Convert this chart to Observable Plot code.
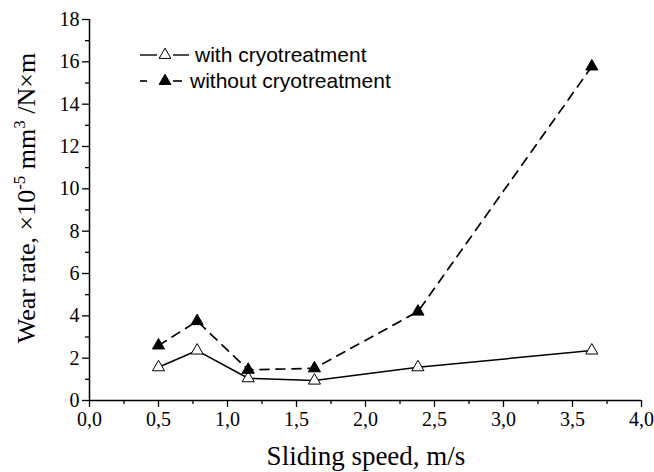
<!DOCTYPE html>
<html>
<head>
<meta charset="utf-8">
<script src="https://cdn.jsdelivr.net/npm/d3@7"></script>
<script src="https://cdn.jsdelivr.net/npm/@observablehq/plot@0.6"></script>
<style>
  html, body { margin: 0; padding: 0; background: #fff; }
  #chart svg { display: block; }
</style>
</head>
<body>
<div id="chart"></div>
<script>
// Data
const speed = [0.50, 0.78, 1.15, 1.63, 2.38, 3.64];
const withCryo = [1.57, 2.36, 1.05, 0.94, 1.57, 2.36];
const withoutCryo = [2.60, 3.75, 1.45, 1.52, 4.20, 15.78];
const seriesNames = ["with cryotreatment", "without cryotreatment"];
const xMajorTicks = [0, 0.5, 1, 1.5, 2, 2.5, 3, 3.5, 4];
const xMinorTicks = [0.25, 0.75, 1.25, 1.75, 2.25, 2.75, 3.25, 3.75];
const yMajorTicks = [0, 2, 4, 6, 8, 10, 12, 14, 16, 18];
const yMinorTicks = [1, 3, 5, 7, 9, 11, 13, 15, 17];

const dataWith = speed.map((s, i) => ({x: s, y: withCryo[i]}));
const dataWithout = speed.map((s, i) => ({x: s, y: withoutCryo[i]}));

const serif = "'Liberation Serif', 'Times New Roman', serif";
const sans = "'Liberation Sans', Arial, sans-serif";
const fmt = d => d.toFixed(1).replace(".", ",");

const plot = Plot.plot({
  width: 654,
  height: 472,
  marginLeft: 89,
  marginRight: 13,
  marginTop: 19,
  marginBottom: 72,
  style: {fontFamily: serif, fontSize: "20px", color: "black", background: "white"},
  x: {domain: [0, 4]},
  y: {domain: [0, 18]},
  marks: [
    Plot.axisX(xMajorTicks, {tickSize: 7, tickPadding: 4, tickFormat: fmt, label: null, stroke: "black", strokeWidth: 1.3}),
    Plot.axisX(xMinorTicks, {tickSize: 4, tickFormat: () => "", label: null, stroke: "black", strokeWidth: 1.3}),
    Plot.axisY(yMajorTicks, {tickSize: 7, tickPadding: 3, label: null, stroke: "black", strokeWidth: 1.3}),
    Plot.axisY(yMinorTicks, {tickSize: 4, tickFormat: () => "", label: null, stroke: "black", strokeWidth: 1.3}),
    Plot.ruleX([0], {stroke: "black", strokeWidth: 1.5}),
    Plot.ruleY([0], {stroke: "black", strokeWidth: 1.5}),
    Plot.line(dataWith, {x: "x", y: "y", stroke: "black", strokeWidth: 1.5}),
    Plot.line(dataWithout, {x: "x", y: "y", stroke: "black", strokeWidth: 1.7, strokeDasharray: "9,7"}),
    Plot.dot(dataWith, {x: "x", y: "y", symbol: "triangle", r: 4.5, fill: "white", stroke: "black", strokeWidth: 1}),
    Plot.dot(dataWithout, {x: "x", y: "y", symbol: "triangle", r: 4.5, fill: "black", stroke: "black", strokeWidth: 1})
  ]
});

document.getElementById("chart").appendChild(plot);

const svg = d3.select(plot);

// Tick label typography (serif, 20px) on library-drawn texts
svg.selectAll("text")
  .attr("font-size", 20).attr("font-family", serif)
  .style("font-size", "20px").style("font-family", serif);

// X axis title
svg.append("text")
  .attr("x", 366).attr("y", 465)
  .attr("text-anchor", "middle")
  .attr("font-family", serif).attr("font-size", 27).attr("fill", "black")
  .text("Sliding speed, m/s");

// Y axis title with superscripts
const yt = svg.append("text")
  .attr("transform", "translate(35,198) rotate(-90)")
  .attr("text-anchor", "middle")
  .attr("font-family", serif).attr("font-size", 26).attr("fill", "black");
yt.append("tspan").text("Wear rate, \u00d710");
yt.append("tspan").attr("dy", -10).attr("font-size", 17).text("-5");
yt.append("tspan").attr("dy", 10).text(" mm");
yt.append("tspan").attr("dy", -10).attr("font-size", 17).text("3");
yt.append("tspan").attr("dy", 10).text(" /N\u00d7m");

// Legend
const sym = d3.symbol(d3.symbolTriangle, 60);
const lg = svg.append("g").attr("text-anchor", "start");
const rows = [
  {y: 55, fill: "white", dash: null, name: seriesNames[0], textX: 195},
  {y: 81, fill: "black", dash: "8,6", name: seriesNames[1], textX: 190}
];
rows.forEach(r => {
  if (r.dash) {
    lg.append("line").attr("x1", 140).attr("x2", 147).attr("y1", r.y).attr("y2", r.y).attr("stroke", "black").attr("stroke-width", 1.6);
    lg.append("line").attr("x1", 173).attr("x2", 182).attr("y1", r.y).attr("y2", r.y).attr("stroke", "black").attr("stroke-width", 1.6);
  } else {
    lg.append("line").attr("x1", 140).attr("x2", 157).attr("y1", r.y).attr("y2", r.y).attr("stroke", "black").attr("stroke-width", 1.4);
    lg.append("line").attr("x1", 173).attr("x2", 189).attr("y1", r.y).attr("y2", r.y).attr("stroke", "black").attr("stroke-width", 1.4);
  }
  lg.append("path").attr("d", sym()).attr("transform", `translate(165,${r.y})`).attr("fill", r.fill).attr("stroke", "black").attr("stroke-width", 1);
  lg.append("text").attr("x", r.textX).attr("y", r.y).attr("dy", "0.35em")
    .attr("text-anchor", "start")
    .attr("font-family", sans).attr("font-size", 21).attr("fill", "black")
    .text(r.name);
});
</script>
</body>
</html>
